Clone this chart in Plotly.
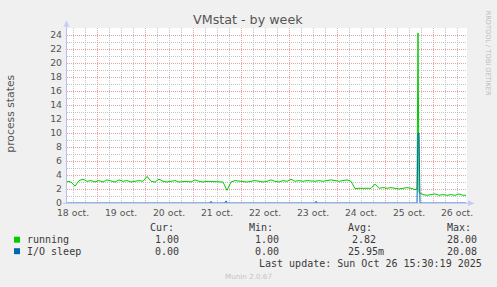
import pandas as pd
import plotly.graph_objects as go

# ---------------- data ----------------
running_start = "2025-10-18 09:00"
running_values = [
    3.1, 3.0, 2.4, 3.2, 3.4, 3.1, 3.2, 3.0,                          # 18 oct
    3.2, 3.0, 3.3, 3.1, 3.0, 3.3, 3.1, 3.2, 3.0, 3.1, 3.2, 3.1,      # 19 oct
    3.8, 3.1, 3.0, 3.4, 3.1, 3.0, 3.1, 3.2, 3.0, 3.1, 3.1, 3.0,      # 20 oct
    3.3, 3.1, 3.0, 3.1, 3.1, 3.0, 3.1, 3.0, 1.8, 3.0, 3.2, 3.1,      # 21 oct
    3.1, 3.0, 3.1, 3.2, 3.1, 3.0, 3.1, 3.3, 3.1, 3.0, 3.2, 3.1,      # 22 oct
    3.4, 3.1, 3.2, 3.1, 3.2, 3.1, 3.1, 3.2, 3.1, 3.2, 3.3, 3.2,      # 23 oct
    3.1, 3.2, 3.3, 3.1, 2.05, 2.1, 2.1, 2.2, 2.1, 2.7, 2.1, 2.2,     # 24 oct
    2.1, 2.2, 2.1, 2.0, 2.1, 2.2, 2.1, 1.9, 1.5, 1.2, 1.1, 1.2,      # 25 oct
    1.3, 1.1, 1.2, 1.1, 1.2, 1.1, 1.3, 1.1,                          # 26 oct
]
running_extra_times = ["2025-10-25 16:00", "2025-10-25 16:30", "2025-10-26 16:30"]
running_extra_values = [2.0, 24.3, 1.1]

io_times = ["2025-10-18 09:00", "2025-10-21 08:30", "2025-10-21 09:00", "2025-10-21 09:30",
            "2025-10-21 16:00", "2025-10-21 16:30", "2025-10-21 17:00",
            "2025-10-23 13:00", "2025-10-23 13:30", "2025-10-23 14:00",
            "2025-10-25 16:00", "2025-10-25 16:30", "2025-10-25 17:00", "2025-10-25 17:30",
            "2025-10-26 16:30"]
io_values = [0, 0, 0.25, 0, 0, 0.3, 0, 0, 0.25, 0, 0, 10, 10, 0, 0]

legend_names = ["running", "I/O sleep"]
legend_colors = ["#00CC00", "#0066B3"]
col_headers = ["Cur:", "Min:", "Avg:", "Max:"]
stats = [["1.00", "1.00", "2.82", "28.00"],
         ["0.00", "0.00", "25.95m", "20.08"]]

x_start = "2025-10-18 09:00"
x_end = "2025-10-26 17:00"
y_max = 25

# ---------------- build ----------------
base_times = pd.date_range(running_start, periods=len(running_values), freq="2h")
run = pd.Series(running_values, index=base_times)
run = pd.concat([run, pd.Series(running_extra_values, index=pd.to_datetime(running_extra_times))]).sort_index()

W, H = 497, 287
L, R, T, B = 67, 467, 28.3, 203.3

def px(x):
    return (x - L) / (R - L)

def py(y):
    return (B - y) / (B - T)

fig = go.Figure()
fig.add_trace(go.Scatter(x=run.index, y=run.values, mode="lines",
                         line=dict(color=legend_colors[0], width=1), name=legend_names[0]))
fig.add_trace(go.Scatter(x=pd.to_datetime(io_times), y=io_values, mode="lines",
                         line=dict(color=legend_colors[1], width=1), name=legend_names[1]))

tickfont = dict(family="DejaVu Sans", size=9.3, color="#555555")
major_grid = "rgba(235,150,150,0.9)"
minor_grid = "rgba(190,190,190,0.9)"

fig.update_layout(
    width=W, height=H,
    margin=dict(l=L, r=W - R, t=T, b=H - B),
    paper_bgcolor="#F0F0F0", plot_bgcolor="#FFFFFF",
    showlegend=False,
    xaxis=dict(
        type="date", range=[x_start, x_end],
        tick0="2025-10-18", dtick=86400000, ticklabelmode="period",
        tickformat="%d oct.", tickfont=tickfont, ticks="", ticklabelstandoff=3,
        showgrid=True, gridcolor=major_grid, griddash="1px,1px", gridwidth=1,
        minor=dict(dtick=6 * 3600000, tick0="2025-10-18", showgrid=True,
                   gridcolor=minor_grid, griddash="1px,1px", gridwidth=1),
        zeroline=False, showline=False, fixedrange=True,
    ),
    yaxis=dict(
        range=[0, y_max], dtick=2, tick0=0, tickfont=tickfont, ticks="",
        showgrid=True, gridcolor=major_grid, griddash="1px,1px", gridwidth=1,
        minor=dict(dtick=1, tick0=0, showgrid=True, gridcolor=minor_grid,
                   griddash="1px,1px", gridwidth=1),
        zeroline=False, showline=False, ticklabelstandoff=4,
    ),
)

axis_col = "#B8C0F0"
shapes = [
    dict(type="line", xref="paper", yref="paper", x0=px(66.5), x1=px(66.5), y0=py(204), y1=py(26),
         line=dict(color=axis_col, width=1), layer="above"),
    dict(type="line", xref="paper", yref="paper", x0=px(63), x1=px(469), y0=py(203.5), y1=py(203.5),
         line=dict(color=axis_col, width=1), layer="above"),
    dict(type="path", xref="paper", yref="paper",
         path=f"M {px(63.5)} {py(27)} L {px(69.5)} {py(27)} L {px(66.5)} {py(20.5)} Z",
         fillcolor="#C8CCF8", line=dict(width=0), layer="above"),
    dict(type="path", xref="paper", yref="paper",
         path=f"M {px(468)} {py(200.5)} L {px(468)} {py(206.5)} L {px(474.5)} {py(203.5)} Z",
         fillcolor="#C8CCF8", line=dict(width=0), layer="above"),
]
for i, c in enumerate(legend_colors):
    yc = 240 + i * 11.5
    shapes.append(dict(type="rect", xref="paper", yref="paper",
                       x0=px(14), x1=px(20), y0=py(yc + 3), y1=py(yc - 3),
                       fillcolor=c, line=dict(width=0)))
fig.update_layout(shapes=shapes)

mono = dict(family="DejaVu Sans Mono", size=10, color="#3a3a3a")
ann = []
ann.append(dict(text="VMstat - by week", x=px(248), y=py(19.5), xref="paper", yref="paper",
                showarrow=False, xanchor="center", yanchor="middle",
                font=dict(family="DejaVu Sans", size=12.7, color="#555555")))
ann.append(dict(text="process states", x=px(11), y=py(114), xref="paper", yref="paper",
                showarrow=False, textangle=-90, xanchor="center", yanchor="middle",
                font=dict(family="DejaVu Sans", size=10.8, color="#555555")))
ann.append(dict(text="RRDTOOL / TOBI OETIKER", x=px(488), y=py(53), xref="paper", yref="paper",
                showarrow=False, textangle=90, xanchor="center", yanchor="middle",
                font=dict(family="DejaVu Sans", size=6.6, color="#BBBBBB")))
col_x = [149, 248, 347, 446]
val_x = [[154, 254, 351, 446], [154, 254, 347, 446]]
for j, h in enumerate(col_headers):
    ann.append(dict(text=h, x=px(col_x[j]), y=py(228), xref="paper", yref="paper",
                    showarrow=False, xanchor="left", yanchor="middle", font=mono, borderpad=0))
for i, name in enumerate(legend_names):
    yc = 240 + i * 11.5
    ann.append(dict(text=name, x=px(26), y=py(yc), xref="paper", yref="paper",
                    showarrow=False, xanchor="left", yanchor="middle", font=mono, borderpad=0))
    for j, v in enumerate(stats[i]):
        ann.append(dict(text=v, x=px(val_x[i][j]), y=py(yc), xref="paper", yref="paper",
                        showarrow=False, xanchor="left", yanchor="middle", font=mono, borderpad=0))
ann.append(dict(text="Last update: Sun Oct 26 15:30:19 2025", x=px(482.5), y=py(264), xref="paper",
                yref="paper", showarrow=False, xanchor="right", yanchor="middle", font=mono, borderpad=0))
ann.append(dict(text="Munin 2.0.67", x=px(248), y=py(276.5), xref="paper", yref="paper",
                showarrow=False, xanchor="center", yanchor="middle",
                font=dict(family="DejaVu Sans", size=7.2, color="#C4C4C4")))
fig.update_layout(annotations=ann)

fig.write_html("out.html")
